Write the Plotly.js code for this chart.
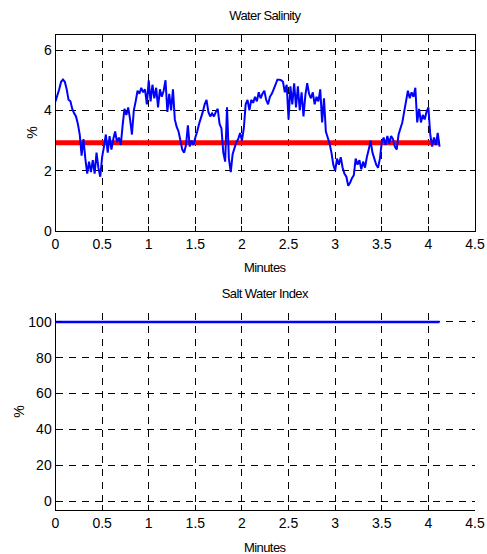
<!DOCTYPE html>
<html>
<head>
<meta charset="utf-8">
<script src="https://cdn.plot.ly/plotly-3.0.1.min.js"></script>
<style>html,body{margin:0;padding:0;background:#fff;}#chart{width:487px;height:554px;}
#chart .annotation-text{letter-spacing:-0.6px;}</style>
</head>
<body>
<div id="chart"></div>
<script>
// Sampling interval of salinity readings (minutes)
const sampleStep = 0.02;
// Water salinity readings (%)
const salinity = [
4.30,4.50,4.70,4.95,5.02,4.95,4.70,4.35,4.30,4.05,
3.90,3.80,3.55,3.20,2.50,3.05,2.40,1.90,2.30,1.95,
2.35,1.90,2.60,2.10,1.80,2.45,2.80,3.20,2.60,3.15,
2.70,3.05,3.30,2.95,3.10,2.85,3.50,4.05,3.85,4.10,
3.70,3.20,4.00,4.30,4.65,4.55,4.75,4.60,4.70,4.20,
5.00,4.30,4.85,4.40,4.75,4.10,4.70,4.45,4.65,5.00,
3.95,4.55,4.00,4.70,3.70,3.45,3.30,3.00,2.70,2.60,
2.85,3.50,2.80,3.00,2.85,3.10,3.30,3.55,3.75,3.95,
4.20,4.35,3.95,3.80,3.90,3.80,3.95,4.05,3.55,3.40,
2.60,2.30,4.10,2.40,1.95,2.55,2.75,2.95,3.05,3.25,
3.00,3.40,4.20,4.35,4.00,4.35,4.25,4.45,4.30,4.60,
4.40,4.55,4.65,4.35,4.20,4.45,4.55,4.70,4.85,5.02,
5.02,5.00,4.95,4.60,4.85,3.70,4.80,4.20,4.90,4.10,
4.80,4.00,4.60,3.80,4.50,4.90,4.55,4.40,4.60,4.20,
4.45,4.30,4.70,3.60,4.40,3.30,3.10,2.90,2.60,2.20,
2.00,2.40,2.20,2.45,2.10,1.90,1.80,1.50,1.60,1.75,
1.85,2.40,2.20,2.35,2.05,2.30,2.10,2.45,2.70,3.00,
2.60,2.40,2.20,2.10,2.40,2.95,3.10,2.85,3.15,2.90,
3.15,3.05,2.80,2.70,3.20,3.40,3.60,3.95,4.30,4.65,
4.40,4.60,4.45,4.75,3.60,4.05,3.60,3.85,3.70,3.95,
4.10,3.20,2.80,3.10,2.85,3.25,2.80
];
// Reference salinity level (%)
const thresholdX = [0, 4.12];
const thresholdY = [2.93, 2.93];
// Salt water index (%)
const indexX = [0, 4.12];
const indexY = [100, 100];
// Tick values
const xTicks = [0,0.5,1,1.5,2,2.5,3,3.5,4,4.5];
const xTickText = ['0','0.5','1','1.5','2','2.5','3','3.5','4','4.5'];
const y1Ticks = [0,2,4,6];
const y2Ticks = [0,20,40,60,80,100];

const times = salinity.map((_, i) => +(i * sampleStep).toFixed(2));

const FONT = 'Arial, "Liberation Sans", sans-serif';

const traces = [
  {x: thresholdX, y: thresholdY, xaxis:'x', yaxis:'y', mode:'lines',
   line:{color:'#ff0000', width:5}, hoverinfo:'skip'},
  {x: times, y: salinity, xaxis:'x', yaxis:'y', mode:'lines',
   line:{color:'#0000ff', width:2, simplify:false}},
  {x: indexX, y: indexY, xaxis:'x2', yaxis:'y2', mode:'lines',
   line:{color:'#0000ff', width:2.5}}
];

const gridCommon = {
  showgrid:true, gridcolor:'#000', gridwidth:1, griddash:'7px,6px',
  zeroline:false, showline:true, linecolor:'#000', linewidth:1,
  ticks:'inside', ticklen:5, tickcolor:'#000', tickwidth:1,
  tickfont:{family:FONT, size:14, color:'#000'}, fixedrange:true
};

const xDom = [55.5/487, 475/487];
const layout = {
  width:487, height:554,
  margin:{l:0, r:0, t:0, b:0},
  paper_bgcolor:'#fff', plot_bgcolor:'#fff',
  showlegend:false,
  font:{family:FONT, color:'#000'},
  xaxis: Object.assign({}, gridCommon, {
    domain:xDom, anchor:'y', range:[0,4.5], tickvals:xTicks, ticktext:xTickText,
    mirror:'ticks'
  }),
  yaxis: Object.assign({}, gridCommon, {
    domain:[1-231/554, 1-35/554], anchor:'x', range:[0,6.5], tickvals:y1Ticks,
    mirror:'ticks'
  }),
  xaxis2: Object.assign({}, gridCommon, {
    domain:xDom, anchor:'y2', range:[0,4.5], tickvals:xTicks, ticktext:xTickText
  }),
  yaxis2: Object.assign({}, gridCommon, {
    domain:[1-510/554, 1-313/554], anchor:'x2', range:[-5,105], tickvals:y2Ticks
  }),
  annotations:[
    {text:'Water Salinity', xref:'paper', yref:'paper', x:265/487, y:1-15/554,
     showarrow:false, font:{size:13, family:FONT, color:'#000'}, xanchor:'center', yanchor:'middle'},
    {text:'Minutes', xref:'paper', yref:'paper', x:265/487, y:1-267/554,
     showarrow:false, font:{size:13, family:FONT, color:'#000'}, xanchor:'center', yanchor:'middle'},
    {text:'%', xref:'paper', yref:'paper', x:32/487, y:1-133/554, textangle:-90,
     showarrow:false, font:{size:14, family:FONT, color:'#000'}, xanchor:'center', yanchor:'middle'},
    {text:'Salt Water Index', xref:'paper', yref:'paper', x:265/487, y:1-293/554,
     showarrow:false, font:{size:13, family:FONT, color:'#000'}, xanchor:'center', yanchor:'middle'},
    {text:'Minutes', xref:'paper', yref:'paper', x:265/487, y:1-547/554,
     showarrow:false, font:{size:13, family:FONT, color:'#000'}, xanchor:'center', yanchor:'middle'},
    {text:'%', xref:'paper', yref:'paper', x:19/487, y:1-412/554, textangle:-90,
     showarrow:false, font:{size:14, family:FONT, color:'#000'}, xanchor:'center', yanchor:'middle'}
  ]
};

Plotly.newPlot('chart', traces, layout, {staticPlot:true, displayModeBar:false});
</script>
</body>
</html>
